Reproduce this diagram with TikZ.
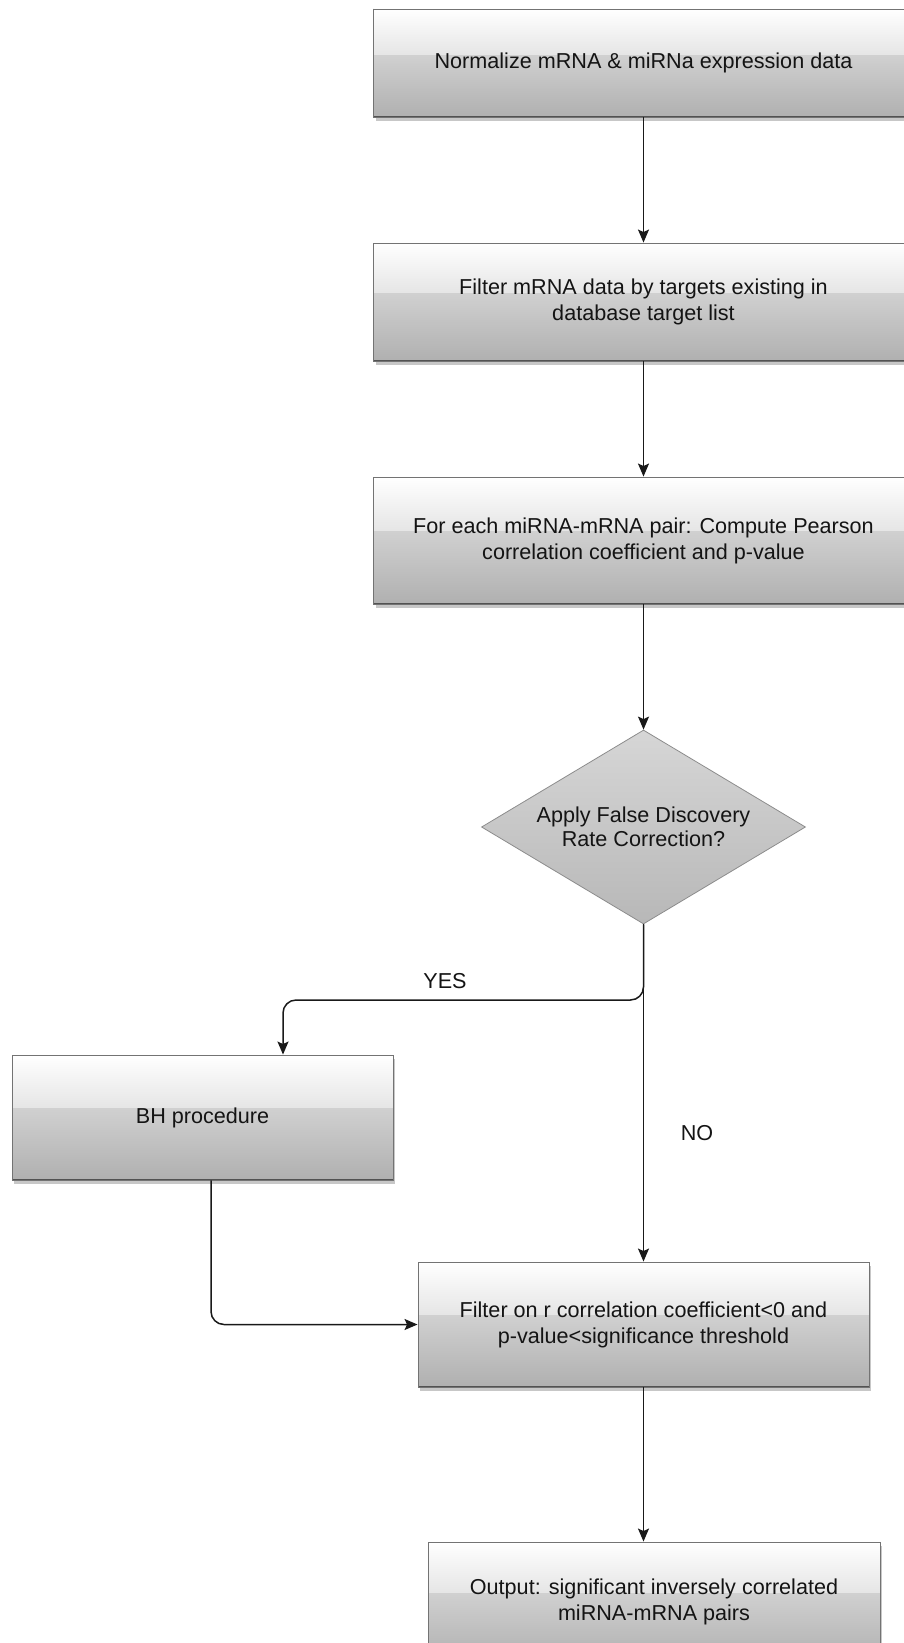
\documentclass[tikz,border=0pt]{standalone}
\usepackage{fontspec}
\setmainfont{Liberation Sans}
\usetikzlibrary{shapes.geometric,arrows.meta,shadows,calc}
\begin{document}
\begin{tikzpicture}[x=1pt,y=-1pt,
  font=\fontsize{21.6}{26}\selectfont,
  glossbox/.style={rectangle, draw=black!55, line width=0.9pt, align=center, inner sep=0pt, text=black!92,
    drop shadow={shadow xshift=2pt, shadow yshift=-4pt, opacity=0.22, fill=black},
    path picture={
      \fill[top color=black!9, bottom color=black!31] (path picture bounding box.north west) rectangle (path picture bounding box.south east);
      \fill[top color=white, bottom color=black!10] (path picture bounding box.north west) rectangle ($(path picture bounding box.north east)!0.42!(path picture bounding box.south east)$);
      \draw[black!68, line width=1.6pt] (path picture bounding box.south west) -- (path picture bounding box.south east);
    }},
  diamondbox/.style={diamond, shape aspect=1.67, minimum width=324pt, minimum height=194pt, inner sep=0pt,
    draw=black!45, line width=0.8pt, top color=black!16, bottom color=black!28, align=center, text=black!92,
    font=\fontsize{21.6}{24}\selectfont},
  arr/.style={draw=black!90, line width=1.5pt, -{Stealth[length=13pt,width=11pt,inset=2.5pt]}},
  lbl/.style={text=black!92, inner sep=1pt}
]
\useasboundingbox (0,0) rectangle (904,1643);
\clip (0,0) rectangle (904,1643);
\fill[white] (0,0) rectangle (904,1643);

\node[glossbox, minimum width=540pt, minimum height=108pt] (b1) at (643.5,63) {Normalize mRNA \& miRNa expression data};
\node[glossbox, minimum width=540pt, minimum height=118pt] (b2) at (643.5,302) {Filter mRNA data by targets existing in\\ database target list};
\node[glossbox, minimum width=540pt, minimum height=127pt] (b3) at (643.5,540.5) {For each miRNA-mRNA pair: Compute Pearson\\ correlation coefficient and p-value};
\node[diamondbox] (dia) at (643.5,827) {Apply False Discovery\\ Rate Correction?};
\node[glossbox, minimum width=381pt, minimum height=125pt] (bh) at (202.5,1117.5) {BH procedure};
\node[glossbox, minimum width=451pt, minimum height=125pt] (filt) at (643.5,1324.5) {Filter on r correlation coefficient<0 and\\ p-value<significance threshold};
\node[glossbox, minimum width=452pt, minimum height=120pt] (out) at (654,1602) {Output: significant inversely correlated\\ miRNA-mRNA pairs};

\draw[arr] (b1.south) -- (b2.north);
\draw[arr] (b2.south) -- (b3.north);
\draw[arr] (b3.south) -- (dia.north);
\draw[arr] (dia.south) -- (dia.south |- filt.north);
\node[lbl] (no) at (697,1133) {NO};

\coordinate (yj) at (0,1000);
\coordinate (bhin) at ($(bh.north)+(80.5,0)$);
\draw[arr, rounded corners=13pt] (dia.south) |- (yj -| bhin) -- (bhin);
\node[lbl] (yes) at (445,981) {YES};

\coordinate (bhout) at ($(bh.south)+(8.5,0)$);
\draw[arr, rounded corners=13pt] (bhout) |- (filt.west);
\draw[arr] (filt.south) -- (filt.south |- out.north);
\end{tikzpicture}
\end{document}
